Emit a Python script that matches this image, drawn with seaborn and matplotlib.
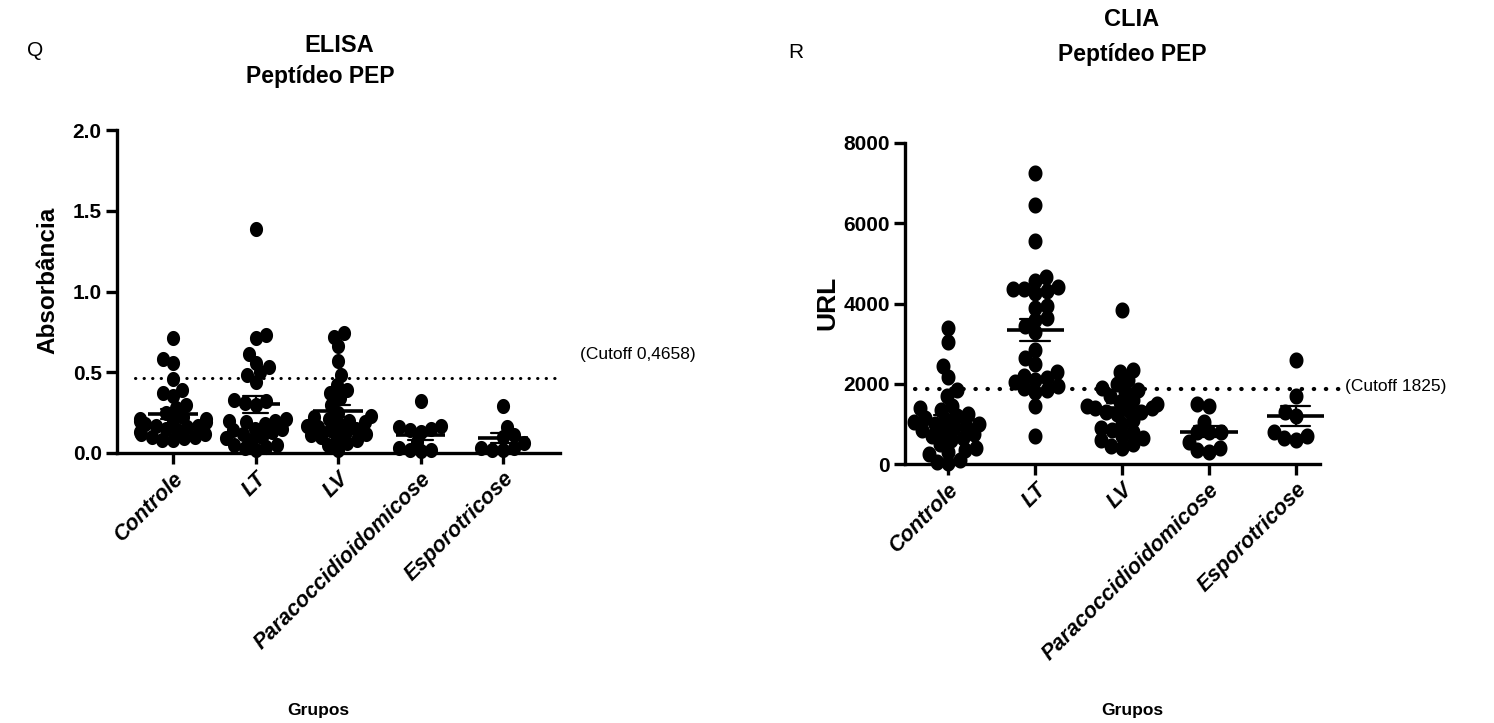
import numpy as np
import pandas as pd
import matplotlib
matplotlib.use("Agg")
import matplotlib.pyplot as plt
from matplotlib.path import Path
from matplotlib.markers import MarkerStyle
from matplotlib.transforms import Affine2D
import seaborn as sns

# ---------------- data ----------------
groups = ["Controle", "LT", "LV", "Paracoccidioidomicose", "Esporotricose"]

elisa_controle = [0.71, 0.58, 0.56, 0.46, 0.39, 0.37, 0.35, 0.30, 0.28, 0.25,
                  0.22, 0.21, 0.21, 0.20, 0.20, 0.19, 0.18, 0.17, 0.17, 0.16,
                  0.15, 0.14, 0.13, 0.12, 0.12, 0.10, 0.10, 0.09, 0.08, 0.08]
elisa_lt = [1.39, 0.73, 0.71, 0.61, 0.56, 0.53, 0.50, 0.48, 0.44, 0.33, 0.32,
            0.31, 0.30, 0.21, 0.20, 0.20, 0.19, 0.18, 0.15, 0.15, 0.14, 0.13,
            0.12, 0.10, 0.09, 0.08, 0.05, 0.05, 0.04, 0.03, 0.02]
elisa_lv = [0.74, 0.72, 0.66, 0.57, 0.48, 0.42, 0.39, 0.37, 0.34, 0.30,
            0.25, 0.23, 0.22, 0.21, 0.20, 0.19, 0.18, 0.17, 0.16, 0.15,
            0.14, 0.13, 0.12, 0.11, 0.10, 0.09, 0.08, 0.06, 0.05, 0.02]
elisa_paracocci = [0.32, 0.17, 0.16, 0.15, 0.14, 0.13, 0.07, 0.03, 0.02, 0.02, 0.01]
elisa_esporo = [0.29, 0.16, 0.11, 0.10, 0.06, 0.03, 0.03, 0.02, 0.02]

clia_controle = [3400, 3030, 2430, 2180, 1850, 1700, 1450, 1400, 1350, 1250,
                 1200, 1150, 1100, 1050, 1000, 1000, 950, 900, 850, 800,
                 750, 700, 650, 600, 500, 400, 350, 300, 250, 100, 50, 20]
clia_lt = [7250, 6450, 5550, 4650, 4550, 4400, 4350, 4350, 4300, 4250,
           3950, 3900, 3650, 3600, 3450, 3300, 2850, 2650, 2500, 2300,
           2200, 2150, 2100, 2050, 1950, 1900, 1850, 1800, 1450, 700]
clia_lv = [3850, 2350, 2300, 2100, 2000, 1900, 1850, 1800, 1700, 1600,
           1550, 1500, 1450, 1400, 1400, 1350, 1300, 1300, 1250, 1100,
           1000, 900, 850, 800, 700, 650, 600, 500, 450, 400]
clia_paracocci = [1500, 1450, 1050, 800, 800, 800, 550, 300, 350, 400]
clia_esporo = [2600, 1700, 1300, 1200, 800, 700, 650, 600]

elisa_cutoff = 0.4658
clia_cutoff_line = 1880
elisa_yticks = [0.0, 0.5, 1.0, 1.5, 2.0]
clia_yticks = [0, 2000, 4000, 6000, 8000]

def long_df(series):
    rows = []
    for g, vals in zip(groups, series):
        for v in vals:
            rows.append((g, v))
    return pd.DataFrame(rows, columns=["grupo", "valor"])

df_elisa = long_df([elisa_controle, elisa_lt, elisa_lv, elisa_paracocci, elisa_esporo])
df_clia = long_df([clia_controle, clia_lt, clia_lv, clia_paracocci, clia_esporo])

# ---------------- style ----------------
sns.set_theme(style="ticks")
plt.rcParams["font.family"] = ["Liberation Sans", "DejaVu Sans"]
for k in ("text.color", "axes.labelcolor", "xtick.color", "ytick.color", "axes.edgecolor"):
    plt.rcParams[k] = "black"

W, H = 1494, 723
fig = plt.figure(figsize=(W / 100, H / 100), dpi=100)

# elliptical marker drawn larger than its nominal swarm size so dots overlap a little
t = np.linspace(0, 2 * np.pi, 40)
ell = Path(np.column_stack([np.cos(t) / 1.15, np.sin(t)]), closed=True)

def make_marker(scale):
    return MarkerStyle(ell, transform=Affine2D().scale(scale))

def panel(ax, df, xlim, ylim, yticks, fmt, cutoff, cut_x, dot_lw, dot_pat,
          mean_half, cap_half, msize, mscale):
    sns.swarmplot(data=df, x="grupo", y="valor", order=groups, color="black",
                  size=msize, marker=make_marker(mscale), linewidth=0, ax=ax,
                  clip_on=False, zorder=3)
    for i, g in enumerate(groups):
        v = np.array(df.loc[df.grupo == g, "valor"])
        m = v.mean()
        se = v.std(ddof=1) / np.sqrt(len(v))
        ax.plot([i - mean_half, i + mean_half], [m, m], color="black", lw=2.6,
                zorder=5, solid_capstyle="butt", clip_on=False)
        ax.plot([i, i], [m - se, m + se], color="black", lw=1.6, zorder=5)
        for y in (m - se, m + se):
            ax.plot([i - cap_half, i + cap_half], [y, y], color="black", lw=1.6, zorder=5)
    ax.plot(cut_x, [cutoff, cutoff], color="black", lw=dot_lw,
            linestyle=(0, dot_pat), dash_capstyle="round", clip_on=False, zorder=2)
    ax.set_xlim(*xlim)
    ax.set_ylim(*ylim)
    ax.set_yticks(yticks)
    ax.set_yticklabels([fmt.format(v) for v in yticks], fontsize=15, fontweight="bold")
    ax.set_xticks(range(len(groups)))
    ax.set_xticklabels(groups, rotation=45, ha="right", rotation_mode="anchor",
                       fontsize=15.5, fontweight="bold", fontstyle="italic")
    ax.set_xlabel("")
    ax.set_ylabel("")
    for s in ("top", "right"):
        ax.spines[s].set_visible(False)
    for s in ("left", "bottom"):
        ax.spines[s].set_linewidth(2.4)
        ax.spines[s].set_color("black")
    ax.tick_params(axis="both", which="major", length=8, width=2.4, color="black",
                   direction="out", pad=3)
    ax.set_facecolor("white")

ax1 = fig.add_axes([117 / W, 1 - 453 / H, 443 / W, 323 / H])
panel(ax1, df_elisa, (-0.68, 4.69), (0, 2.0), elisa_yticks, "{:.1f}", elisa_cutoff,
      [-0.46, 4.69], 2.2, (0.1, 2.7), 0.3, 0.15, 7.5, 1.45)

ax2 = fig.add_axes([905 / W, 1 - 464 / H, 415 / W, 321 / H])
panel(ax2, df_clia, (-0.5, 4.28), (0, 8000), clia_yticks, "{:d}", clia_cutoff_line,
      [-0.38, 4.5], 3.0, (0.1, 2.8), 0.33, 0.17, 8, 1.45)

# titles and labels
tfs = 16.5
fig.text(339 / W, 1 - 46 / H, "ELISA", ha="center", va="center", fontsize=tfs + 0.5, fontweight="bold")
fig.text(320 / W, 1 - 77 / H, "Peptídeo PEP", ha="center", va="center", fontsize=tfs, fontweight="bold")
fig.text(1132 / W, 1 - 20 / H, "CLIA", ha="center", va="center", fontsize=tfs + 0.5, fontweight="bold")
fig.text(1132 / W, 1 - 54 / H, "Peptídeo PEP", ha="center", va="center", fontsize=tfs, fontweight="bold")
fig.text(35 / W, 1 - 50 / H, "Q", ha="center", va="center", fontsize=15)
fig.text(796 / W, 1 - 52 / H, "R", ha="center", va="center", fontsize=15)
fig.text(48 / W, 1 - 280 / H, "Absorbância", rotation=90, ha="center", va="center",
         fontsize=17.5, fontweight="bold")
fig.text(827 / W, 1 - 303 / H, "URL", rotation=90, ha="center", va="center",
         fontsize=19, fontweight="bold")
fig.text(318 / W, 1 - 710 / H, "Grupos", ha="center", va="center", fontsize=12.5, fontweight="bold")
fig.text(1132 / W, 1 - 710 / H, "Grupos", ha="center", va="center", fontsize=12.5, fontweight="bold")
fig.text(580 / W, 1 - 355 / H, "(Cutoff 0,4658)", ha="left", va="center", fontsize=12.5)
fig.text(1345 / W, 1 - 387 / H, "(Cutoff 1825)", ha="left", va="center", fontsize=12.5)

fig.savefig("out.png", dpi=100, facecolor="white")
